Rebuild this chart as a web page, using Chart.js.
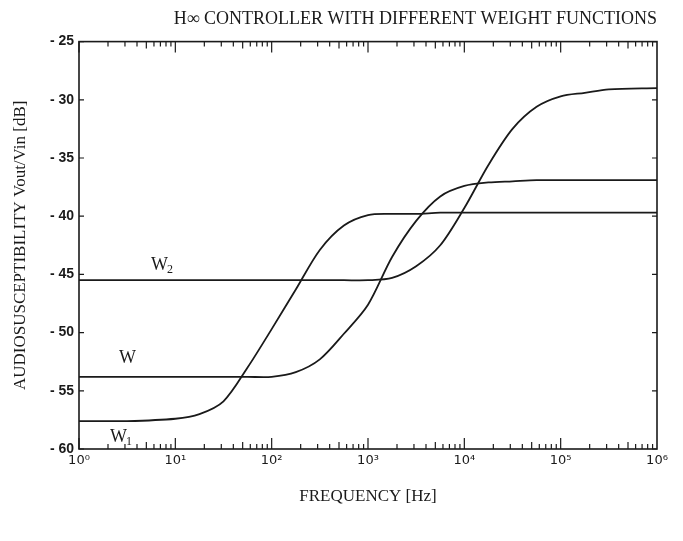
<!DOCTYPE html>
<html>
<head>
<meta charset="utf-8">
<script src="https://cdn.jsdelivr.net/npm/chart.js@4.4.1/dist/chart.umd.min.js"></script>
<style>
  body { margin: 0; background: #fff; }
  #wrap { width: 683px; height: 541px; }
</style>
</head>
<body>
<div id="wrap"><canvas id="myChart"></canvas></div>
<script>
// frequency points (Hz), shared by the three curves
const freqHz = [1, 3.16, 10, 17.8, 31.6, 56.2, 100, 178, 316, 562, 1000, 1778, 3162, 5623,
                10000, 17783, 31623, 56234, 100000, 177828, 316228, 1000000];

// audiosusceptibility in dB
const w2Db = [-45.5, -45.5, -45.5, -45.5, -45.5, -45.5, -45.5, -45.5, -45.5, -45.5, -45.5,
              -45.3, -44.3, -42.5, -39.3, -35.6, -32.5, -30.6, -29.7, -29.4, -29.1, -29.0];
const wDb  = [-53.8, -53.8, -53.8, -53.8, -53.8, -53.8, -53.8, -53.4, -52.3, -50.1, -47.6,
              -43.5, -40.4, -38.3, -37.4, -37.1, -37.0, -36.9, -36.9, -36.9, -36.9, -36.9];
const w1Db = [-57.6, -57.6, -57.4, -57.0, -55.9, -53.0, -49.7, -46.3, -42.9, -40.8, -39.9,
              -39.8, -39.8, -39.7, -39.7, -39.7, -39.7, -39.7, -39.7, -39.7, -39.7, -39.7];

const curveNames = ['W', 'W', 'W'];
const curveSubs = ['2', '', '1'];

const xTickValues = [1, 10, 100, 1000, 10000, 100000, 1000000];
const xTickLabels = ['10\u2070', '10\u00B9', '10\u00B2', '10\u00B3', '10\u2074', '10\u2075', '10\u2076'];
const yTickValues = [-60, -55, -50, -45, -40, -35, -30, -25];

const ink = '#1a1a1a';

function toPoints(values) {
    return freqHz.map((f, i) => ({x: f, y: values[i]}));
}

// frame, inward tick marks and the curve names
const frameAndLabels = {
    id: 'frameAndLabels',
    afterDatasetsDraw(chart) {
        const {ctx, chartArea: {left, right, top, bottom}, scales: {x, y}} = chart;
        ctx.save();
        ctx.strokeStyle = ink;
        ctx.lineWidth = 1.6;
        ctx.strokeRect(left, top, right - left, bottom - top);

        ctx.lineWidth = 1.2;
        ctx.beginPath();
        yTickValues.forEach(v => {
            const py = y.getPixelForValue(v);
            ctx.moveTo(left, py);  ctx.lineTo(left + 5, py);
            ctx.moveTo(right, py); ctx.lineTo(right - 5, py);
        });
        for (let d = 1; d < 1e6; d *= 10) {
            for (let m = 1; m <= 9; m++) {
                const px = x.getPixelForValue(m * d);
                const len = m === 1 ? 11 : (m === 5 ? 7 : 5);
                ctx.moveTo(px, bottom); ctx.lineTo(px, bottom - len);
                ctx.moveTo(px, top);    ctx.lineTo(px, top + len);
            }
        }
        ctx.stroke();

        // curve names next to their low-frequency plateau
        ctx.fillStyle = ink;
        ctx.textAlign = 'left';
        ctx.textBaseline = 'middle';
        const series = [w2Db, wDb, w1Db];
        const anchorHz = [5.6, 2.6, 2.1];
        const shift = [-15, -19, 16];
        curveNames.forEach((name, i) => {
            const px = x.getPixelForValue(anchorHz[i]);
            const py = y.getPixelForValue(series[i][0]) + shift[i];
            ctx.font = '18px "Liberation Serif"';
            ctx.fillText(name, px, py);
            const w = ctx.measureText(name).width;
            ctx.font = '12px "Liberation Serif"';
            ctx.fillText(curveSubs[i], px + w - 1, py + 5);
        });
        ctx.restore();
    }
};

const lineStyle = {
    borderColor: ink,
    borderWidth: 1.8,
    pointRadius: 0,
    fill: false,
    tension: 0.3
};

const ctx = document.getElementById('myChart');

new Chart(ctx, {
    type: 'line',
    data: {
        datasets: [
            {label: 'W2', data: toPoints(w2Db), ...lineStyle},
            {label: 'W', data: toPoints(wDb), ...lineStyle},
            {label: 'W1', data: toPoints(w1Db), ...lineStyle}
        ]
    },
    options: {
        responsive: true,
        maintainAspectRatio: false,
        animation: false,
        layout: {padding: {left: 0, right: 26, top: 0, bottom: 0}},
        scales: {
            x: {
                type: 'logarithmic',
                min: 1,
                max: 1000000,
                border: {display: false},
                grid: {display: false, drawTicks: false},
                afterBuildTicks: s => { s.ticks = xTickValues.map(v => ({value: v})); },
                afterFit: s => { s.height = 92; s.paddingLeft = 0; s.paddingRight = 0; },
                ticks: {
                    autoSkip: false,
                    maxRotation: 0,
                    padding: 4,
                    color: ink,
                    font: {family: '"DejaVu Sans"', size: 13},
                    callback: (v) => xTickLabels[xTickValues.indexOf(v)]
                },
                title: {
                    display: true,
                    text: 'FREQUENCY [Hz]',
                    color: ink,
                    font: {family: '"Liberation Serif"', size: 17},
                    padding: {top: 0, bottom: 34}
                }
            },
            y: {
                min: -60,
                max: -25,
                border: {display: false},
                grid: {display: false, drawTicks: false},
                afterBuildTicks: s => { s.ticks = yTickValues.map(v => ({value: v})); },
                afterFit: s => { s.width = 79; },
                ticks: {
                    padding: 5,
                    color: ink,
                    font: {family: '"Liberation Sans Narrow", "Liberation Sans"', size: 14, weight: 'bold'},
                    callback: (v) => '- ' + String(-v)
                },
                title: {
                    display: true,
                    text: 'AUDIOSUSCEPTIBILITY Vout/Vin [dB]',
                    color: ink,
                    font: {family: '"Liberation Serif"', size: 17},
                    padding: {top: 10, bottom: 0}
                }
            }
        },
        plugins: {
            legend: {display: false},
            tooltip: {enabled: false},
            title: {
                display: true,
                align: 'end',
                text: 'H\u221E CONTROLLER WITH DIFFERENT WEIGHT FUNCTIONS',
                color: ink,
                font: {family: '"Liberation Serif"', size: 18, weight: 'normal'},
                padding: {top: 8, bottom: 12}
            }
        }
    },
    plugins: [frameAndLabels]
});
</script>
</body>
</html>
